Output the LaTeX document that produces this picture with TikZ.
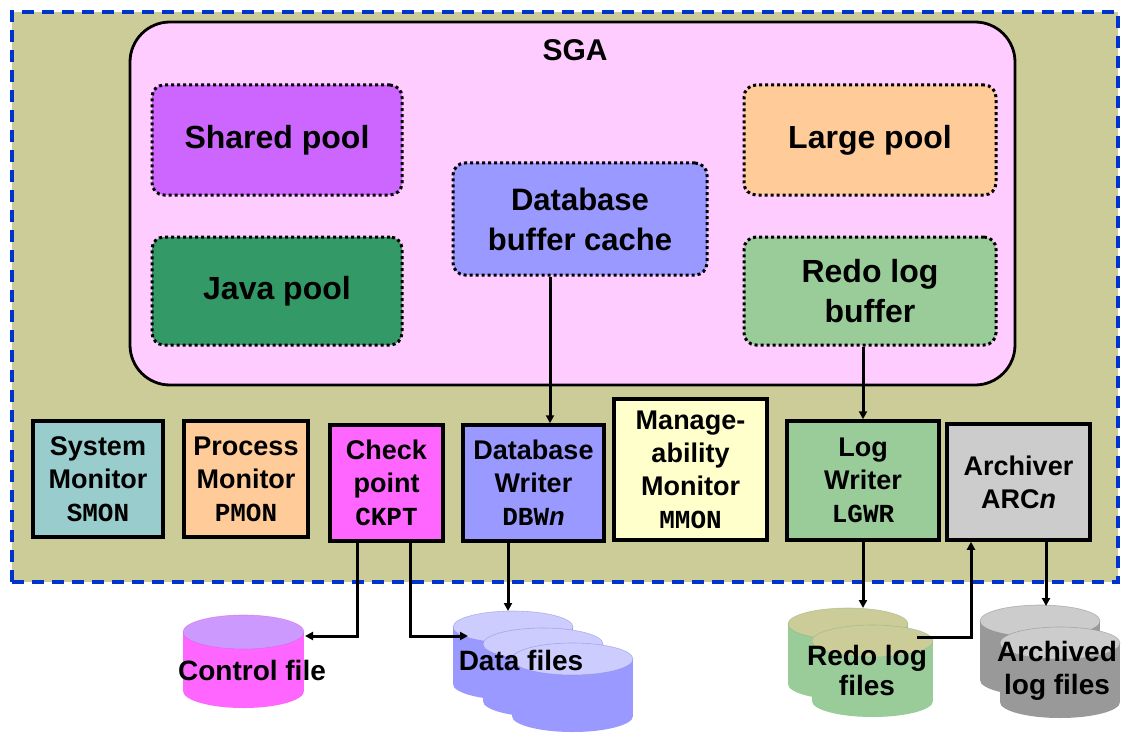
\documentclass[tikz,border=0pt]{standalone}
\usepackage{fontspec}
\setmainfont{Liberation Sans}
\newfontfamily\monof{Liberation Mono}
\usetikzlibrary{arrows.meta,calc}
\definecolor{cBg}{HTML}{CCCC99}
\definecolor{cDash}{HTML}{0033CC}
\definecolor{cSGA}{HTML}{FFCCFF}
\definecolor{cShared}{HTML}{CC66FF}
\definecolor{cJava}{HTML}{339966}
\definecolor{cDBC}{HTML}{9999FF}
\definecolor{cLarge}{HTML}{FFCC99}
\definecolor{cRedo}{HTML}{99CC99}
\definecolor{cSmon}{HTML}{99CCCC}
\definecolor{cMmon}{HTML}{FFFFCC}
\definecolor{cCkpt}{HTML}{FF66FF}
\definecolor{cArc}{HTML}{CCCCCC}
\definecolor{cCfTop}{HTML}{CC99FF}
\definecolor{cDfTop}{HTML}{CCCCFF}
\definecolor{cAfBody}{HTML}{999999}
\newcommand\mycyl[7]{%
  \fill[#6] ({#1-#3},#2) rectangle ({#1+#3},{#2+#5});
  \fill[#6] (#1,{#2+#5}) ellipse [x radius=#3pt, y radius=#4pt];
  \fill[#7] (#1,#2) ellipse [x radius=#3pt, y radius=#4pt];
  \draw[#6!85!black, line width=0.6pt, opacity=0.5] (#1,#2) ellipse [x radius=#3pt, y radius=#4pt];
}
\begin{document}
\begin{tikzpicture}[x=1pt,y=-1pt,
  pool/.style={draw=black, line width=3pt, dash pattern=on 3pt off 3pt,
    rounded corners=12pt, font=\fontsize{32}{40}\selectfont\bfseries,
    align=center, inner sep=0pt},
  proc/.style={draw=black, line width=3.5pt, font=\fontsize{27}{33}\selectfont\bfseries,
    align=center, inner sep=0pt},
  ftext/.style={font=\fontsize{28}{30}\selectfont\bfseries, align=center, inner sep=0pt},
  arr/.style={line width=3pt, -{Triangle[length=8pt,width=8pt]}}]
\useasboundingbox (0,0) rectangle (1122,733);
\fill[white] (0,0) rectangle (1122,733);
% outer container
\node[draw=cDash, fill=cBg, line width=4pt, dash pattern=on 12pt off 8pt,
  minimum width=1106pt, minimum height=570pt, inner sep=0pt] (outer) at (565,297) {};
% SGA
\node[draw=black, fill=cSGA, line width=2.8pt, rounded corners=40pt,
  minimum width=885pt, minimum height=363pt, inner sep=0pt] (sga) at (572.5,203.5) {};
\node[font=\fontsize{30}{36}\selectfont\bfseries] (sgat) at (575,50) {SGA};
% pools
\node[pool, fill=cShared, minimum width=250pt, minimum height=110pt] (shared) at (277,140) {Shared pool};
\node[pool, fill=cJava, minimum width=250pt, minimum height=108pt] (java) at (277,291) {Java pool};
\node[pool, fill=cDBC, minimum width=254pt, minimum height=112pt,
  font=\fontsize{31}{40}\selectfont\bfseries] (dbc) at (580,219) {Database\\buffer cache};
\node[pool, fill=cLarge, minimum width=252pt, minimum height=110pt] (large) at (870,140) {Large pool};
\node[pool, fill=cRedo, minimum width=252pt, minimum height=108pt] (rlb) at (870,291) {Redo log\\buffer};
% processes
\node[proc, fill=cSmon, minimum width=130pt, minimum height=116pt] (smon) at (98,479)
  {System\\Monitor\\{\monof\fontsize{26}{33}\selectfont SMON}};
\node[proc, fill=cLarge, minimum width=124pt, minimum height=116pt] (pmon) at (246,479)
  {Process\\Monitor\\{\monof\fontsize{26}{33}\selectfont PMON}};
\node[proc, fill=cCkpt, minimum width=113pt, minimum height=116pt] (ckpt) at (386.5,483)
  {Check\\point\\{\monof\fontsize{26}{33}\selectfont CKPT}};
\node[proc, fill=cDBC, minimum width=141pt, minimum height=116pt] (dbw) at (533.5,483)
  {Database\\Writer\\{\monof\fontsize{26}{33}\selectfont DBW\textit{n}}};
\node[proc, fill=cMmon, minimum width=153pt, minimum height=141pt] (mmon) at (690.5,469.5)
  {Manage-\\ability\\Monitor\\{\monof\fontsize{26}{33}\selectfont MMON}};
\node[proc, fill=cRedo, minimum width=152pt, minimum height=119pt] (lgwr) at (863,480.5)
  {Log\\Writer\\{\monof\fontsize{26}{33}\selectfont LGWR}};
\node[proc, fill=cArc, minimum width=143pt, minimum height=116pt] (arc) at (1018.5,482)
  {Archiver\\ARC\textit{n}};
% cylinders
\mycyl{243.5}{632}{60.5}{17}{59}{cCkpt}{cCfTop}
\mycyl{513}{627}{60}{16}{57}{cDBC}{cDfTop}
\mycyl{543}{644}{60}{16}{57}{cDBC}{cDfTop}
\mycyl{572.5}{659}{60.5}{16}{57}{cDBC}{cDfTop}
\mycyl{848}{624}{60}{16}{60}{cRedo}{cBg}
\mycyl{872.5}{641}{60.5}{16}{60}{cRedo}{cBg}
\mycyl{1040}{621}{60}{16}{59}{cAfBody}{cArc}
\mycyl{1060}{643}{60}{16}{59}{cAfBody}{cArc}
\node[ftext] (cf) at (252,670) {Control file};
\node[ftext] (df) at (521,660) {Data files};
\node[ftext] (rf) at (867,670) {Redo log\\files};
\node[ftext, font=\fontsize{28}{33}\selectfont\bfseries] (af) at (1057,671) {Archived\\log files};
% connector anchors
\coordinate (xa) at (550,0);
\coordinate (k1) at (357,0);
\coordinate (k2) at (410,0);
\coordinate (k3) at (508,0);
\coordinate (k4) at (971,0);
\coordinate (k5) at (1046,0);
\coordinate (cfR) at (305,636);
\coordinate (dfL) at (468,636);
\coordinate (dfT) at (508,611);
\coordinate (rfT) at (863,608);
\coordinate (rfR) at (917,637);
\coordinate (afT) at (1046,606);
% connectors
\draw[arr] (dbc.south -| xa) -- (dbw.north -| xa);
\draw[arr] (rlb.south -| lgwr.north) -- (lgwr.north);
\draw[arr] (ckpt.south -| k1) |- (cfR);
\draw[arr] (ckpt.south -| k2) |- (dfL);
\draw[arr] (dbw.south -| k3) -- (dfT);
\draw[arr] (lgwr.south) -- (rfT);
\draw[arr] (rfR) -| (arc.south -| k4);
\draw[arr] (arc.south -| k5) -- (afT);
\end{tikzpicture}
\end{document}
